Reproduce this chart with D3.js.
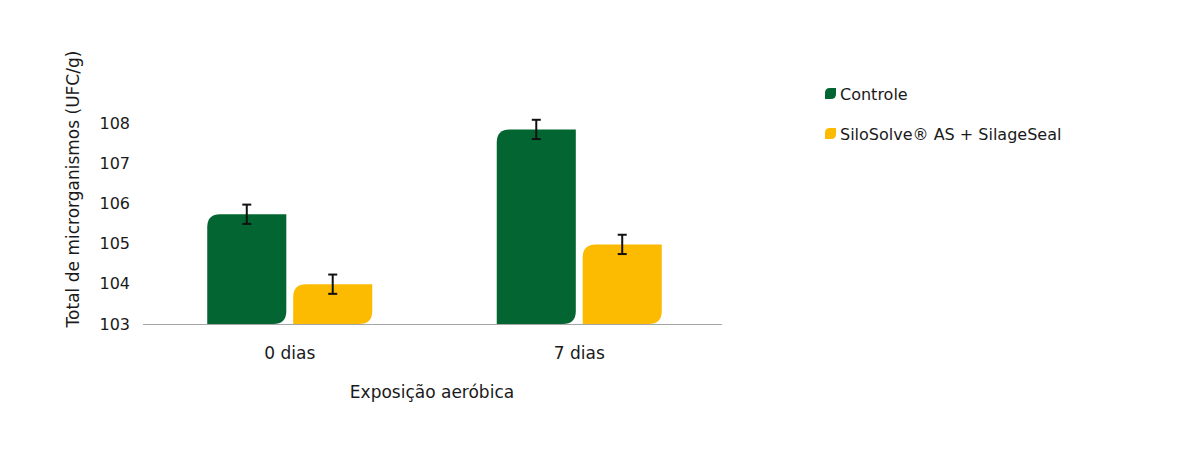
<!DOCTYPE html>
<html>
<head>
<meta charset="utf-8">
<script src="https://cdn.jsdelivr.net/npm/d3@7"></script>
<style>
	body { margin: 0; background: #fff; }
	text { font-family: 'DejaVu Sans', sans-serif; fill: #1a1a1a; }
</style>
</head>
<body>
<div id="chart"></div>
<script>
// chart data
var categories = ['0 dias', '7 dias'];
var series = ['Controle', 'SiloSolve® AS + SilageSeal'];
var controle = [105.73, 107.84];
var silosolve = [103.99, 104.98];
var controleErr = [0.24, 0.24];
var silosolveErr = [0.24, 0.24];
var yTicks = [103, 104, 105, 106, 107, 108];
var yTickLabels = ['103', '104', '105', '106', '107', '108'];
var colors = ['#036531', '#fcba00'];

var width = 1184, height = 455;
var plot = { left: 143, right: 722, top: 123, bottom: 324 };

var svg = d3.select('#chart').append('svg')
	.attr('width', width)
	.attr('height', height);

// scales
var x0 = d3.scaleBand()
	.domain(categories)
	.range([plot.left + 2, plot.right + 2])
	.paddingInner(0.43)
	.paddingOuter(0.215);

var x1 = d3.scaleBand()
	.domain(series)
	.range([0, x0.bandwidth()])
	.paddingInner(0.08);

var y = d3.scaleLinear()
	.domain([103, 108])
	.range([plot.bottom, plot.top]);

var color = d3.scaleOrdinal().domain(series).range(colors);

// rows for bars
var rows = [];
categories.forEach(function(c, i) {
	rows.push({ cat: c, s: series[0], v: controle[i], e: controleErr[i] });
	rows.push({ cat: c, s: series[1], v: silosolve[i], e: silosolveErr[i] });
});

// leaf shaped rect: rounded top-left and bottom-right
function leaf(x, yy, w, h, r) {
	r = Math.min(r, w / 2, h / 2);
	return 'M' + (x + r) + ',' + yy +
		'H' + (x + w) +
		'V' + (yy + h - r) +
		'Q' + (x + w) + ',' + (yy + h) + ' ' + (x + w - r) + ',' + (yy + h) +
		'H' + x +
		'V' + (yy + r) +
		'Q' + x + ',' + yy + ' ' + (x + r) + ',' + yy + 'Z';
}

// y tick labels
svg.append('g')
	.selectAll('text')
	.data(yTicks)
	.enter()
	.append('text')
	.attr('x', 130)
	.attr('y', function(d) { return y(d); })
	.attr('dy', '0.35em')
	.attr('text-anchor', 'end')
	.style('font-size', '16px')
	.text(function(d, i) { return yTickLabels[i]; });

// bars
svg.append('g')
	.selectAll('path')
	.data(rows)
	.enter()
	.append('path')
	.attr('d', function(d) {
		var bx = x0(d.cat) + x1(d.s);
		return leaf(bx, y(d.v), x1.bandwidth(), y(103) - y(d.v), 13);
	})
	.attr('fill', function(d) { return color(d.s); });

// axis line
svg.append('line')
	.attr('x1', plot.left)
	.attr('x2', plot.right)
	.attr('y1', y(103) + 0.5)
	.attr('y2', y(103) + 0.5)
	.attr('stroke', '#a6a6a6')
	.attr('stroke-width', 1.2);

// error bars
var err = svg.append('g')
	.selectAll('g')
	.data(rows)
	.enter()
	.append('g')
	.attr('stroke', '#111')
	.attr('stroke-width', 2);

err.append('line')
	.attr('x1', function(d) { return x0(d.cat) + x1(d.s) + x1.bandwidth() / 2; })
	.attr('x2', function(d) { return x0(d.cat) + x1(d.s) + x1.bandwidth() / 2; })
	.attr('y1', function(d) { return y(d.v + d.e); })
	.attr('y2', function(d) { return y(d.v - d.e); });

['+', '-'].forEach(function(sign) {
	err.append('line')
		.attr('x1', function(d) { return x0(d.cat) + x1(d.s) + x1.bandwidth() / 2 - 4.5; })
		.attr('x2', function(d) { return x0(d.cat) + x1(d.s) + x1.bandwidth() / 2 + 4.5; })
		.attr('y1', function(d) { return y(sign == '+' ? d.v + d.e : d.v - d.e); })
		.attr('y2', function(d) { return y(sign == '+' ? d.v + d.e : d.v - d.e); });
});

// category labels
svg.append('g')
	.selectAll('text')
	.data(categories)
	.enter()
	.append('text')
	.attr('x', function(d) { return x0(d) + x0.bandwidth() / 2; })
	.attr('y', 359)
	.attr('text-anchor', 'middle')
	.style('font-size', '17px')
	.text(function(d) { return d; });

// axis titles
svg.append('text')
	.attr('x', 432)
	.attr('y', 398)
	.attr('text-anchor', 'middle')
	.style('font-size', '17px')
	.text('Exposição aeróbica');

svg.append('text')
	.attr('transform', 'translate(79,189) rotate(-90)')
	.attr('text-anchor', 'middle')
	.style('font-size', '17px')
	.text('Total de microrganismos (UFC/g)');

// legend
var legend = svg.append('g')
	.selectAll('g')
	.data(series)
	.enter()
	.append('g')
	.attr('transform', function(d, i) { return 'translate(825,' + (88 + i * 40) + ')'; });

legend.append('path')
	.attr('d', leaf(0, 0, 11, 11, 5))
	.attr('fill', function(d) { return color(d); });

legend.append('text')
	.attr('x', 15)
	.attr('y', 6)
	.attr('dy', '0.35em')
	.style('font-size', '16px')
	.text(function(d) { return d; });
</script>
</body>
</html>
